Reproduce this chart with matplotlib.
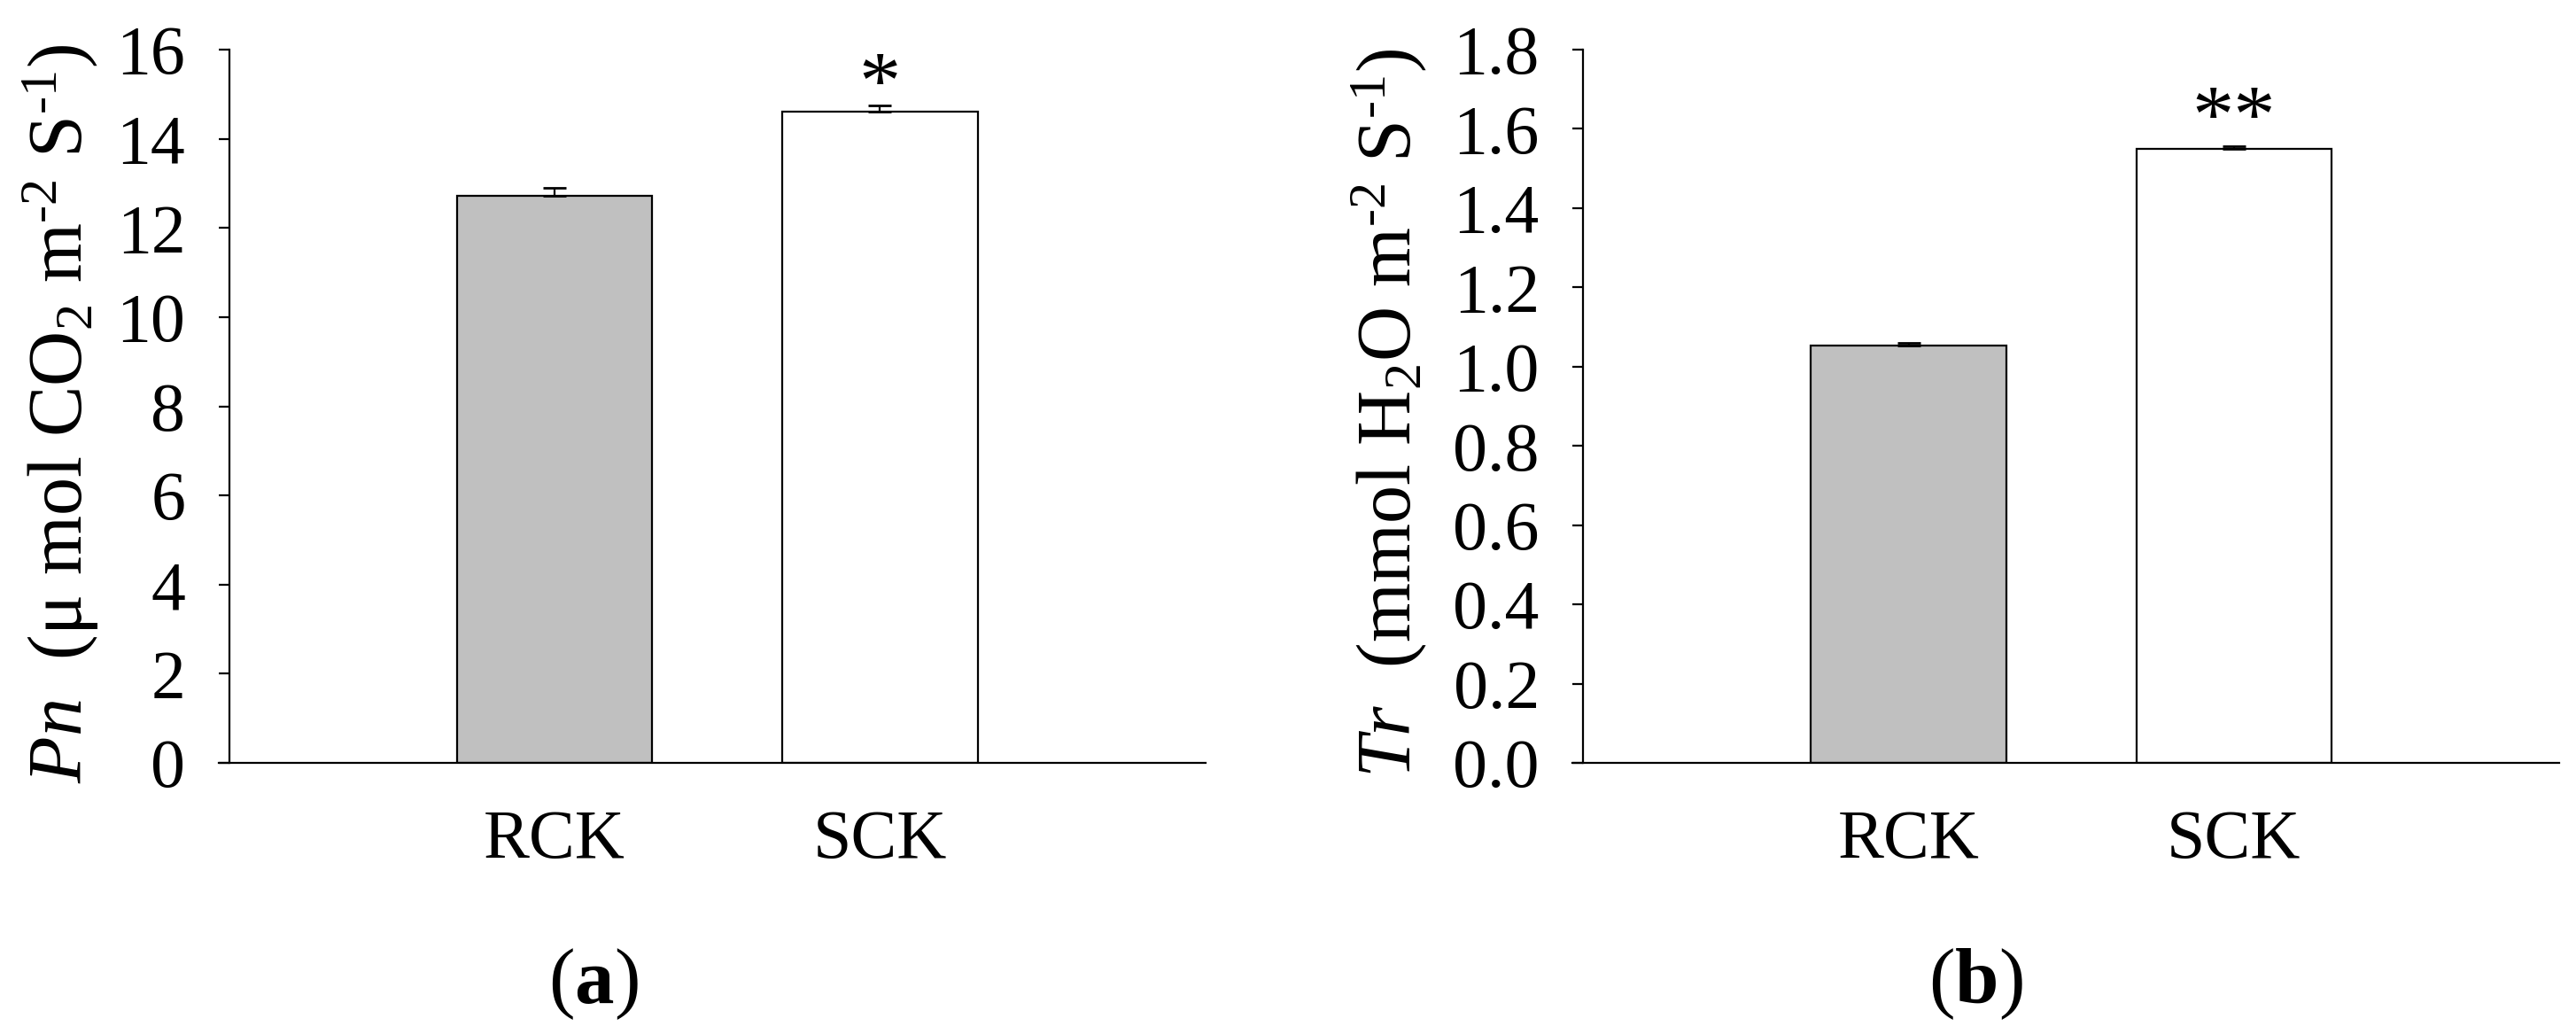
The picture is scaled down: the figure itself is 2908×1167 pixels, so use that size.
import matplotlib
matplotlib.use("Agg")
import matplotlib.pyplot as plt
from matplotlib import rcParams
from matplotlib.ticker import FormatStrFormatter

config = {
    "font.family": "Liberation Serif",
    "mathtext.fontset": "custom",
    "mathtext.rm": "Liberation Serif",
    "mathtext.it": "Liberation Serif:italic",
    "mathtext.bf": "Liberation Serif:bold",
}
rcParams.update(config)

# data
groups = ["RCK", "SCK"]
pn_mean = [12.72, 14.61]
pn_err = [0.18, 0.14]
pn_sig = ["", "*"]
tr_mean = [1.053, 1.550]
tr_err = [0.008, 0.006]
tr_sig = ["", "**"]
bar_colors = ["#C0C0C0", "#FFFFFF"]

lw = 0.8
fig = plt.figure(figsize=(14.54, 5.835), dpi=200)
ax_a = fig.add_axes([0.08896, 0.2622, 0.37896, 0.6898])
ax_b = fig.add_axes([0.6146, 0.2622, 0.37896, 0.6898])


def draw_panel(ax, means, errs, sigs, ylim, yticks, ylabel, label_x, fmt, star_off):
    x = list(range(len(groups)))
    ax.bar(x, means, width=0.6, color=bar_colors, edgecolor="black", linewidth=lw, zorder=2)
    ax.errorbar(x, means, yerr=[[0] * len(errs), errs], fmt="none", ecolor="black",
                elinewidth=lw, capsize=4.6, capthick=1.0, zorder=3)
    for xi, m, e, s in zip(x, means, errs, sigs):
        if s:
            ax.annotate(s, (xi, m + e), xytext=(0, star_off), textcoords="offset points",
                        ha="center", va="center", fontsize=34)
    ax.set_xlim(-1, 2)
    ax.set_ylim(*ylim)
    ax.set_yticks(yticks)
    ax.yaxis.set_major_formatter(FormatStrFormatter(fmt))
    ax.set_xticks(x)
    ax.set_xticklabels(groups)
    ax.tick_params(axis="x", length=0, pad=19, labelsize=28)
    ax.tick_params(axis="y", length=4.3, width=lw, pad=13.5, labelsize=28, direction="out")
    ax.spines["right"].set_visible(False)
    ax.spines["top"].set_visible(False)
    ax.spines["left"].set_linewidth(lw)
    ax.spines["bottom"].set_linewidth(lw)
    ax.spines["bottom"].set_bounds(-1.033, 2)
    ax.set_ylabel(ylabel, fontsize=31)
    ax.yaxis.set_label_coords(label_x, 0.49)


draw_panel(ax_a, pn_mean, pn_err, pn_sig, (0, 16), range(0, 17, 2),
           r"$\mathit{Pn}$  (μ mol CO$_2$ m$^{\text{-}2}$ S$^{\text{-}1}$)", -0.131, "%d", 7)
draw_panel(ax_b, tr_mean, tr_err, tr_sig, (0, 1.8), [i * 0.2 for i in range(10)],
           r"$\mathit{Tr}$  (mmol H$_2$O m$^{\text{-}2}$ S$^{\text{-}1}$)", -0.158, "%.1f", 10)

fig.text(670 / 2908, 1 - 1111 / 1167, r"($\mathbf{a}$)", ha="center", va="center", fontsize=32)
fig.text(2230 / 2908, 1 - 1111 / 1167, r"($\mathbf{b}$)", ha="center", va="center", fontsize=32)

fig.savefig("out.png", dpi=200)
